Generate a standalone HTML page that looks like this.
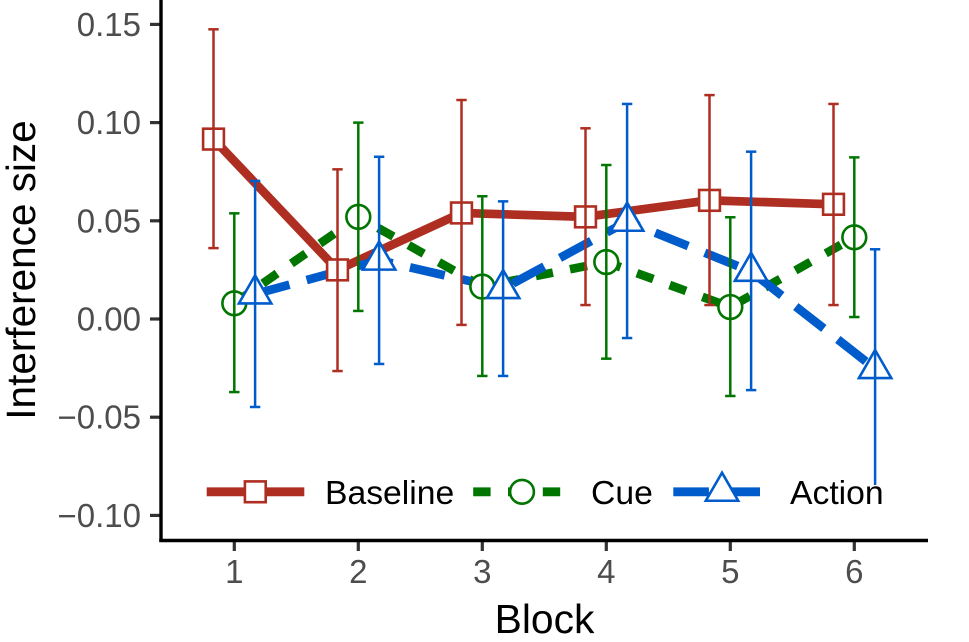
<!DOCTYPE html>
<html>
<head>
<meta charset="utf-8">
<title>Interference size by block</title>
<style>
html,body{margin:0;padding:0;background:#fff;width:969px;height:642px;overflow:hidden}
svg{display:block}
text{font-family:"Liberation Sans",Arial,sans-serif}
</style>
</head>
<body>
<svg id="chart" width="969" height="642" viewBox="0 0 969 642" xmlns="http://www.w3.org/2000/svg"></svg>
<script>
const blocks = [1, 2, 3, 4, 5, 6];
const yTickValues = [0.15, 0.10, 0.05, 0, -0.05, -0.10];
const yTickLabels = ["0.15", "0.10", "0.05", "0.00", "\u22120.05", "\u22120.10"];

const baselineMean = [0.0916, 0.0250, 0.0540, 0.0520, 0.0604, 0.0584];
const baselineUpper = [0.1475, 0.0762, 0.1115, 0.0971, 0.1140, 0.1095];
const baselineLower = [0.0361, -0.0265, -0.0030, 0.0071, 0.0071, 0.0071];

const cueMean = [0.0080, 0.0520, 0.0165, 0.0290, 0.0061, 0.0416];
const cueUpper = [0.0538, 0.1000, 0.0625, 0.0784, 0.0518, 0.0823];
const cueLower = [-0.0372, 0.0041, -0.0290, -0.0202, -0.0392, 0.0010];

const actionMean = [0.0127, 0.0299, 0.0154, 0.0497, 0.0242, -0.0253];
const actionUpper = [0.0703, 0.0826, 0.0599, 0.1095, 0.0852, 0.0355];
const actionLower = [-0.0448, -0.0229, -0.0290, -0.0097, -0.0362, -0.0880];

const NS = "http://www.w3.org/2000/svg";
const svg = document.getElementById("chart");

function xScale(b) { return 234.3 + (b - 1) * 124; }
function yScale(v) { return 319 - v * 1964; }

function make(tag, attrs, parent, txt) {
  const el = document.createElementNS(NS, tag);
  for (const k in attrs) el.setAttribute(k, attrs[k]);
  if (txt !== undefined) el.textContent = txt;
  (parent || svg).appendChild(el);
  return el;
}

function drawMarker(shape, cx, cy, color, parent) {
  let m;
  if (shape === "square") {
    m = make("rect", { x: cx - 10.4, y: cy - 10.4, width: 20.8, height: 20.8, fill: "#fff", stroke: color, "stroke-width": 2.6 }, parent);
  } else if (shape === "circle") {
    m = make("circle", { cx: cx, cy: cy, r: 11.9, fill: "#fff", stroke: color, "stroke-width": 2.6 }, parent);
  } else {
    const pts = [[cx, cy - 18.7], [cx + 16.2, cy + 9.35], [cx - 16.2, cy + 9.35]].map(p => p.join(",")).join(" ");
    m = make("polygon", { points: pts, fill: "#fff", stroke: color, "stroke-width": 2.6, "stroke-linejoin": "miter" }, parent);
  }
  return m;
}

const series = [
  { key: "baseline", color: "#AE2F22", dash: "none", shape: "square", offset: -20.8, mean: baselineMean, upper: baselineUpper, lower: baselineLower },
  { key: "cue", color: "#007600", dash: "17.4 17.4", shape: "circle", offset: 0, mean: cueMean, upper: cueUpper, lower: cueLower },
  { key: "action", color: "#005CCB", dash: "35.6 17.8", shape: "triangle", offset: 20.8, mean: actionMean, upper: actionUpper, lower: actionLower }
];

/* lines */
series.forEach(s => {
  const pts = blocks.map((b, i) => (xScale(b) + s.offset) + "," + yScale(s.mean[i])).join(" ");
  const line = make("polyline", { points: pts, fill: "none", stroke: s.color, "stroke-width": 8.7, "stroke-linejoin": "round" });
  if (s.dash !== "none") line.setAttribute("stroke-dasharray", s.dash);
  
  
});

/* markers */
series.forEach(s => {
  blocks.forEach((b, i) => {
    const m = drawMarker(s.shape, xScale(b) + s.offset, yScale(s.mean[i]), s.color);
    
    
  });
});

/* error bars */
series.forEach(s => {
  blocks.forEach((b, i) => {
    const x = xScale(b) + s.offset, y1 = yScale(s.upper[i]), y2 = yScale(s.lower[i]);
    const g = make("g", { stroke: s.color, "stroke-width": 2.5, fill: "none" });
    
    
    make("line", { x1: x, x2: x, y1: y1, y2: y2 }, g);
    make("line", { x1: x - 5.2, x2: x + 5.2, y1: y1, y2: y1 }, g);
    make("line", { x1: x - 5.2, x2: x + 5.2, y1: y2, y2: y2 }, g);
  });
});

/* legend */
const legend = make("g", {});


const legendBg = make("rect", { x: 196, y: 485, width: 700, height: 30, fill: "#fff" }, legend);


const legendEntries = [
  { label: "Baseline", s: series[0], x1: 206.7, x2: 304.3, mx: 255.3, tx: 325 },
  { label: "Cue", s: series[1], x1: 473.2, x2: 560.7, mx: 522, tx: 591 },
  { label: "Action", s: series[2], x1: 673.3, x2: 760, mx: 722, tx: 790 }
];
legendEntries.forEach(e => {
  const g = make("g", {}, legend);
  
  
  const k = make("line", { x1: e.x1, x2: e.x2, y1: 491.8, y2: 491.8, stroke: e.s.color, "stroke-width": 8.8 }, g);
  if (e.s.dash !== "none") k.setAttribute("stroke-dasharray", e.s.dash);
  const my = e.s.shape === "triangle" ? 491.4 : 491.8;
  drawMarker(e.s.shape, e.mx, my, e.s.color, g);
  make("text", { x: e.tx, y: 504, "font-size": 33.7, fill: "#000" }, g, e.label);
});

/* axes */
const yAxis = make("g", {});


const xAxis = make("g", {});



yTickValues.forEach((v, i) => {
  const y = yScale(v);
  const t = make("line", { x1: 150, x2: 160, y1: y, y2: y, stroke: "#333", "stroke-width": 3.2 }, yAxis);
  
  
  const l = make("text", { x: 141, y: y + 11.5, "font-size": 33, fill: "#4d4d4d", "text-anchor": "end" }, yAxis, yTickLabels[i]);
  
  
});
blocks.forEach(b => {
  const x = xScale(b);
  const t = make("line", { x1: x, x2: x, y1: 541, y2: 551, stroke: "#333", "stroke-width": 3.2 }, xAxis);
  
  
  const l = make("text", { x: x, y: 583, "font-size": 33, fill: "#4d4d4d", "text-anchor": "middle" }, xAxis, String(b));
  
  
});
const yLine = make("line", { x1: 161, x2: 161, y1: 0, y2: 542, stroke: "#000", "stroke-width": 3.4 }, yAxis);


const xLine = make("line", { x1: 159.3, x2: 928, y1: 540.5, y2: 540.5, stroke: "#000", "stroke-width": 3.4 }, xAxis);



const xTitle = make("text", { x: 544.5, y: 633, "font-size": 40.8, fill: "#000", "text-anchor": "middle" }, xAxis, "Block");


const yTitle = make("text", { x: 0, y: 0, "font-size": 40.5, fill: "#000", "text-anchor": "middle", transform: "translate(35,270) rotate(-90)" }, yAxis, "Interference size");


</script>
</body>
</html>
